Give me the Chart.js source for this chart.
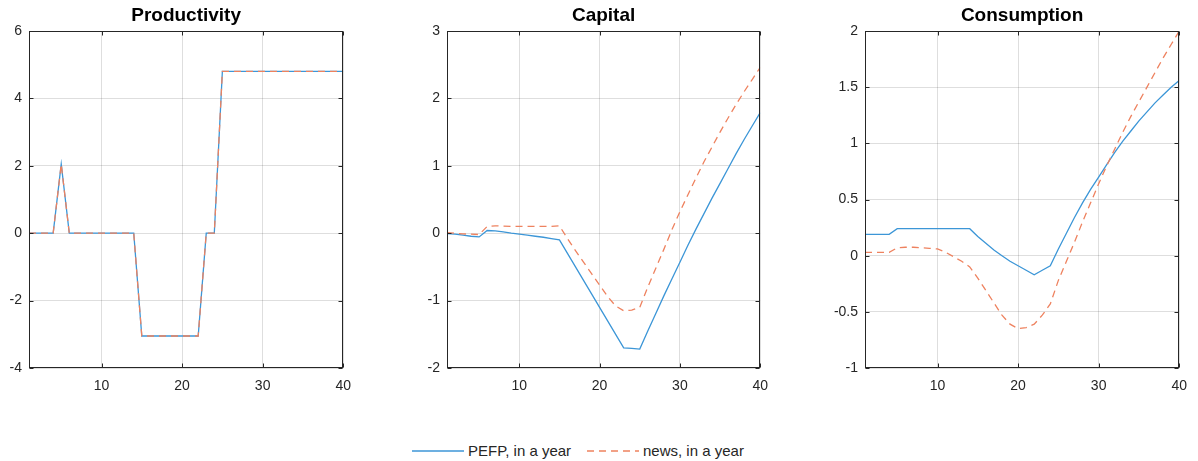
<!DOCTYPE html>
<html>
<head>
<meta charset="utf-8">
<script src="https://cdn.jsdelivr.net/npm/chart.js@4"></script>
<style>
  body { margin: 0; background: #fff; width: 1198px; height: 461px; overflow: hidden; position: relative; font-family: "Liberation Sans", Arial, sans-serif; }
  canvas { position: absolute; top: 0; }
  .leg { position: absolute; font-size: 15px; color: #262626; top: 441px; line-height: 20px; white-space: nowrap; }
  .legline { position: absolute; top: 445px; }
</style>
</head>
<body>
<canvas id="prod"></canvas>
<canvas id="cap"></canvas>
<canvas id="cons"></canvas>

<svg class="legline" style="left:412px" width="52" height="12"><line x1="0" y1="6" x2="52" y2="6" stroke="rgb(60,150,215)" stroke-width="1.3"/></svg>
<span class="leg" style="left:468px">PEFP, in a year</span>
<svg class="legline" style="left:587px" width="52" height="12"><line x1="0" y1="6" x2="52" y2="6" stroke="rgb(238,130,95)" stroke-width="1.3" stroke-dasharray="7,5"/></svg>
<span class="leg" style="left:643px">news, in a year</span>

<script>
const periods = [1,2,3,4,5,6,7,8,9,10,11,12,13,14,15,16,17,18,19,20,21,22,23,24,25,26,27,28,29,30,31,32,33,34,35,36,37,38,39,40];
const xTicks = [10, 20, 30, 40];

// Productivity
const prodPEFP = [0,0,0,0,2.05,0,0,0,0,0,0,0,0,0,-3.05,-3.05,-3.05,-3.05,-3.05,-3.05,-3.05,-3.05,0,0,4.8,4.8,4.8,4.8,4.8,4.8,4.8,4.8,4.8,4.8,4.8,4.8,4.8,4.8,4.8,4.8];
const prodNews = [0,0,0,0,2.05,0,0,0,0,0,0,0,0,0,-3.05,-3.05,-3.05,-3.05,-3.05,-3.05,-3.05,-3.05,0,0,4.8,4.8,4.8,4.8,4.8,4.8,4.8,4.8,4.8,4.8,4.8,4.8,4.8,4.8,4.8,4.8];

// Capital
const capPEFP = [-0.005,-0.015,-0.03,-0.045,-0.055,0.04,0.035,0.02,0.0,-0.015,-0.03,-0.045,-0.06,-0.08,-0.1,-0.3,-0.5,-0.7,-0.9,-1.1,-1.3,-1.5,-1.7,-1.71,-1.72,-1.45,-1.19,-0.93,-0.68,-0.43,-0.18,0.06,0.29,0.52,0.74,0.96,1.18,1.39,1.59,1.79];
const capNews = [0.01,0.0,-0.01,-0.015,-0.02,0.1,0.11,0.105,0.1,0.1,0.1,0.1,0.1,0.1,0.11,-0.08,-0.26,-0.43,-0.6,-0.77,-0.94,-1.08,-1.15,-1.14,-1.1,-0.8,-0.52,-0.24,0.05,0.32,0.57,0.82,1.06,1.28,1.5,1.71,1.91,2.1,2.28,2.46];

// Consumption
const consPEFP = [0.19,0.19,0.19,0.19,0.24,0.24,0.24,0.24,0.24,0.24,0.24,0.24,0.24,0.24,0.17,0.11,0.05,0.0,-0.05,-0.09,-0.13,-0.17,-0.13,-0.09,0.06,0.2,0.34,0.47,0.59,0.7,0.81,0.92,1.02,1.11,1.2,1.28,1.36,1.43,1.5,1.56];
const consNews = [0.03,0.03,0.03,0.03,0.07,0.075,0.075,0.07,0.065,0.06,0.03,-0.01,-0.05,-0.1,-0.2,-0.31,-0.42,-0.53,-0.61,-0.65,-0.64,-0.61,-0.53,-0.43,-0.22,-0.05,0.12,0.3,0.47,0.64,0.8,0.95,1.1,1.24,1.37,1.5,1.63,1.76,1.88,2.0];

const blue = "rgb(60,150,215)";
const orange = "rgb(238,130,95)";
const axisColor = "#262626";
const font = '"Liberation Sans", Arial, sans-serif';

// matlab style box + inward ticks + title
const boxPlugin = {
    id: "box",
    afterDraw(chart, args, opts) {
        const c = chart.ctx;
        const a = chart.chartArea;
        const l = Math.round(a.left) + 0.5, r = Math.round(a.right) - 0.5;
        const t = Math.round(a.top) + 0.5, b = Math.round(a.bottom) - 0.5;
        c.save();
        c.strokeStyle = axisColor;
        c.lineWidth = 1;
        c.strokeRect(l, t, r - l, b - t);
        c.beginPath();
        chart.scales.y.ticks.forEach(tk => {
            const y = Math.round(chart.scales.y.getPixelForValue(tk.value)) + 0.5;
            c.moveTo(l, y); c.lineTo(l + 4, y);
            c.moveTo(r, y); c.lineTo(r - 4, y);
        });
        chart.scales.x.ticks.forEach(tk => {
            const x = Math.round(chart.scales.x.getPixelForValue(tk.value)) + 0.5;
            c.moveTo(x, b); c.lineTo(x, b - 4);
            c.moveTo(x, t); c.lineTo(x, t + 4);
        });
        c.stroke();
        c.fillStyle = "#000";
        c.font = "bold 19px " + font;
        c.textAlign = "center";
        c.textBaseline = "middle";
        c.fillText(opts.text, (a.left + a.right) / 2, 16);
        c.restore();
    }
};

const makePanel = (id, plotLeft, plotWidth, title, pefp, news, yMin, yMax, step) => {
    const canvas = document.getElementById(id);
    canvas.width = 40 + plotWidth + 14;
    canvas.height = 400;
    canvas.style.left = (plotLeft - 40) + "px";
    return new Chart(canvas.getContext("2d"), {
        type: "line",
        data: {
            datasets: [
                {
                    label: "PEFP, in a year",
                    data: periods.map((p, i) => ({ x: p, y: pefp[i] })),
                    borderColor: blue,
                    borderWidth: 1.3,
                    order: 1,
                },
                {
                    label: "news, in a year",
                    data: periods.map((p, i) => ({ x: p, y: news[i] })),
                    borderColor: orange,
                    borderWidth: 1.3,
                    borderDash: [7, 5],
                    order: 0,
                },
            ],
        },
        options: {
            responsive: false,
            animation: false,
            layout: { padding: { top: 31, right: 14, bottom: 0, left: 0 } },
            elements: { point: { radius: 0 }, line: { tension: 0 } },
            plugins: {
                legend: { display: false },
                tooltip: { enabled: false },
                box: { text: title },
            },
            scales: {
                x: {
                    type: "linear",
                    min: 1,
                    max: 40,
                    afterBuildTicks: s => { s.ticks = xTicks.map(v => ({ value: v })); },
                    afterFit: s => { s.height = 32; },
                    grid: { color: "rgba(0,0,0,0.13)", drawTicks: false },
                    border: { display: false },
                    ticks: { color: axisColor, padding: 10, font: { family: font, size: 14 } },
                },
                y: {
                    min: yMin,
                    max: yMax,
                    afterFit: s => { s.width = 40; },
                    grid: { color: "rgba(0,0,0,0.13)", drawTicks: false },
                    border: { display: false },
                    ticks: {
                        stepSize: step,
                        color: axisColor,
                        padding: 7,
                        font: { family: font, size: 14 },
                        callback: v => String(Math.round(v * 100) / 100),
                    },
                },
            },
        },
        plugins: [boxPlugin],
    });
};

makePanel("prod", 29, 318, "Productivity", prodPEFP, prodNews, -4, 6, 2);
makePanel("cap", 447, 317, "Capital", capPEFP, capNews, -2, 3, 1);
makePanel("cons", 865, 318, "Consumption", consPEFP, consNews, -1, 2, 0.5);
</script>
</body>
</html>
